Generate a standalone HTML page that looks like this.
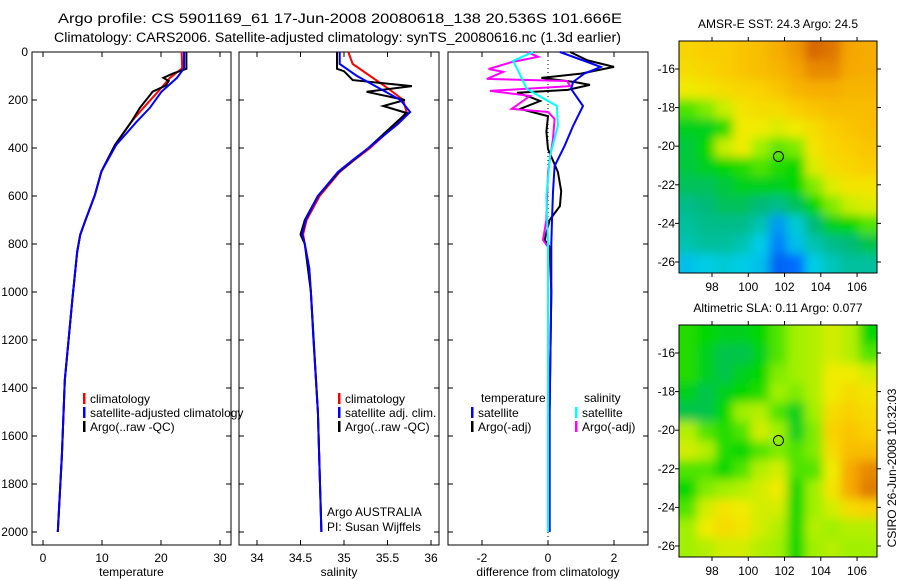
<!DOCTYPE html>
<html><head><meta charset="utf-8"><style>
html,body{margin:0;padding:0;background:#fff;}
svg{display:block;font-family:"Liberation Sans",sans-serif;}
</style></head><body>
<svg id="fig" width="900" height="580" viewBox="0 0 900 580">
<rect width="900" height="580" fill="#fff"/>
<text x="58" y="23" font-size="13.5" text-anchor="start" textLength="564" lengthAdjust="spacingAndGlyphs">Argo profile: CS 5901169_61 17-Jun-2008 20080618_138 20.536S 101.666E</text>
<text x="54" y="42" font-size="13.5" text-anchor="start" textLength="567" lengthAdjust="spacingAndGlyphs">Climatology: CARS2006. Satellite-adjusted climatology: synTS_20080616.nc (1.3d earlier)</text>
<g id="layer"></g>
</svg>
<script>
// ---- data ----
const depthTicks=[0,200,400,600,800,1000,1200,1400,1600,1800,2000];
const tempTicks=[0,10,20,30];
const salTicks=[34,34.5,35,35.5,36];
const salTickLabels=["34","34.5","35","35.5","36"];
const diffTicks=[-2,0,2];
const depT=[0,68,108,165,233,290,387,498,596,707,762,832,1025,1367,1680,2000];
const tempClim=[23.5,23.6,21.5,19.5,17,15,12.2,9.9,8.8,7.1,6.3,5.8,5.0,3.7,3.2,2.5];
const tempSat=[23.9,23.9,22.7,20.1,18.1,15.9,12.4,9.9,8.8,7.1,6.3,5.8,5.0,3.7,3.2,2.5];
const depTA=[0,70,90,108,121,140,165,190,233,290,387,498,596,707,762,832,1025,1367,1680,2000];
const tempArgo=[24.3,24.3,22,20.4,21.3,20.8,18.6,17.8,16.4,15,12.2,9.9,8.8,7.1,6.3,5.8,5.0,3.7,3.2,2.5];
const depS=[0,50,100,150,200,250,300,350,400,450,500,600,700,760,800,900,1000,1200,1500,2000];
const salClim=[35.05,35.1,35.3,35.5,35.68,35.72,35.6,35.45,35.3,35.12,34.95,34.72,34.57,34.53,34.55,34.6,34.62,34.65,34.7,34.74];
const salSat=[34.95,34.95,35.15,35.4,35.65,35.76,35.62,35.45,35.28,35.1,34.93,34.7,34.56,34.52,34.55,34.6,34.62,34.65,34.7,34.74];
const depSA=[0,70,80,117,142,166,200,225,254,300,400,500,600,700,760,800,1000,1500,2000];
const salArgo=[34.92,34.92,35.0,35.1,35.78,35.26,35.7,35.45,35.72,35.58,35.28,34.94,34.7,34.55,34.5,34.55,34.62,34.7,34.74];
const dTsatD=[0,62,90,125,154,225,308,392,475,583,700,800,1000,1500,2000];
const dTsat=[0.36,1.6,1.1,0.76,0.7,1.06,0.76,0.5,0.2,0.15,0.12,0.1,0.1,0.05,0.05];
const dTargoD=[0,35,62,90,108,125,137,158,170,190,204,237,267,333,404,500,580,642,700,783,812,1000,1500,2000];
const dTargo=[0.67,1.2,2.0,1.0,-0.2,0.8,1.27,0.6,-0.94,-0.5,-0.24,-0.85,0,-0.05,0,0.3,0.4,0.36,0.05,-0.1,0.05,0.1,0.05,0.05];
const dSsatD=[0,37,80,154,225,308,433,600,800,1000,2000];
const dSsat=[-0.45,-1.06,-0.9,-0.64,0.27,0.3,0.06,-0.05,0,0,0];
const dSargoD=[0,20,42,71,83,112,121,142,162,183,204,237,250,279,362,500,700,783,812,1000,2000];
const dSargo=[-0.64,-0.3,-1.1,-1.8,-1.36,-1.85,0.58,0.67,-1.76,-0.55,-0.76,-1.1,0,0.2,0.15,0,-0.05,-0.15,0,0,0];
const lonTicks=[98,100,102,104,106];
const latTicks=[-16,-18,-20,-22,-24,-26];
const sstGrid=[
[.74,.76,.76,.78,.8,.84,.88,.95,.93,.86,.84],
[.72,.74,.76,.78,.8,.82,.86,.9,.9,.85,.84],
[.68,.7,.72,.74,.75,.78,.82,.84,.84,.82,.82],
[.55,.58,.64,.7,.72,.72,.76,.78,.8,.8,.8],
[.48,.48,.52,.68,.68,.66,.68,.72,.76,.78,.8],
[.46,.5,.64,.68,.6,.56,.58,.7,.74,.76,.78],
[.46,.48,.5,.52,.55,.52,.5,.66,.72,.74,.76],
[.44,.44,.46,.48,.48,.48,.5,.58,.66,.7,.7],
[.4,.42,.44,.44,.42,.4,.44,.5,.58,.64,.66],
[.38,.4,.4,.4,.36,.22,.32,.42,.48,.5,.55],
[.36,.38,.38,.36,.3,.18,.28,.36,.4,.42,.45],
[.28,.3,.32,.3,.28,.12,.15,.3,.35,.38,.38]];
const slaGrid=[
[.52,.5,.48,.48,.5,.55,.6,.62,.65,.62,.5],
[.52,.48,.45,.45,.48,.55,.6,.62,.65,.62,.55],
[.52,.48,.45,.48,.5,.58,.6,.62,.68,.68,.65],
[.48,.45,.48,.5,.52,.6,.58,.62,.68,.72,.7],
[.45,.45,.5,.6,.62,.55,.48,.6,.72,.75,.72],
[.62,.55,.52,.55,.65,.6,.48,.58,.75,.78,.75],
[.65,.62,.52,.5,.55,.58,.55,.58,.72,.8,.8],
[.55,.55,.5,.55,.62,.65,.55,.55,.68,.85,.9],
[.5,.58,.6,.62,.65,.68,.5,.6,.7,.85,.92],
[.55,.65,.7,.68,.65,.65,.5,.6,.65,.72,.75],
[.6,.68,.72,.7,.65,.62,.5,.62,.6,.62,.62],
[.6,.62,.65,.65,.62,.6,.5,.6,.62,.6,.6]];
const argoLon=101.666, argoLat=-20.536;

// ---- drawing ----
const NS="http://www.w3.org/2000/svg";
const L=document.getElementById('layer');
function mk(tag,attrs,parent){const e=document.createElementNS(NS,tag);for(const k in attrs)e.setAttribute(k,attrs[k]);(parent||L).appendChild(e);return e;}
function txt(x,y,s,size,anchor,parent){const e=mk('text',{x:x,y:y,'font-size':size||12,'text-anchor':anchor||'middle'},parent);e.textContent=s;return e;}
const Y0=52,Y1=545;
const dy=d=>Y0+d*0.24;
function line(xs,ys,fx,color,name,w){
  const pts=xs.map((v,i)=>fx(v).toFixed(1)+','+dy(ys[i]).toFixed(1)).join(' ');
  const p=mk('polyline',{points:pts,fill:'none',stroke:color,'stroke-width':w||2});
  
  
}
function frame(x0,x1,fx,ticks,labels,xlabel,name,ylabels){
  const g=mk('g',{});
  
  
  mk('rect',{x:x0,y:Y0,width:x1-x0,height:Y1-Y0,fill:'none',stroke:'#000','stroke-width':1},g);
  ticks.forEach((t,i)=>{const x=fx(t);
    mk('line',{x1:x,x2:x,y1:Y1,y2:Y1-5,stroke:'#000'},g);
    mk('line',{x1:x,x2:x,y1:Y0,y2:Y0+5,stroke:'#000'},g);
    const tl=txt(x,562,labels[i],12,'middle',g);
    
    
  });
  depthTicks.forEach(d=>{const y=dy(d);
    mk('line',{x1:x0,x2:x0+5,y1:y,y2:y,stroke:'#000'},g);
    mk('line',{x1:x1,x2:x1-5,y1:y,y2:y,stroke:'#000'},g);
    if(ylabels){const tl=txt(28,y+4,String(d),12,'end',g);
      
      }
  });
  const xl=txt((x0+x1)/2,576,xlabel,12,'middle',g);
  
  
}
function legend(x,y,color,label,name){
  const g=mk('g',{});
  
  
  mk('rect',{x:x,y:y-10,width:2.5,height:11,fill:color},g);
  if(label)txt(x+7,y,label,12,'start',g);
}
// panel 1 temperature
const xt=t=>43+5.9*t;
frame(32,231,xt,tempTicks,tempTicks.map(String),'temperature','temperature-panel',true);
line(tempClim,depT,xt,'#f00','temp-climatology-line');
line(tempArgo,depTA,xt,'#000','temp-argo-line');
line(tempSat,depT,xt,'#00f','temp-satellite-line');
legend(83,403,'#f00','climatology','legend-climatology');
legend(83,417,'#00f','satellite-adjusted climatology','legend-satellite-adjusted');
legend(83,431,'#000','Argo(..raw -QC)','legend-argo-raw');
// panel 2 salinity
const xs=s=>257+87*(s-34);
frame(239,439,xs,salTicks,salTickLabels,'salinity','salinity-panel',false);
line(salClim,depS,xs,'#f00','sal-climatology-line');
line(salArgo,depSA,xs,'#000','sal-argo-line');
line(salSat,depS,xs,'#00f','sal-satellite-line');
legend(338,403,'#f00','climatology','legend-sal-climatology');
legend(338,417,'#00f','satellite adj. clim.','legend-sal-satellite');
legend(338,431,'#000','Argo(..raw -QC)','legend-sal-argo');
const a1=txt(327,516,'Argo AUSTRALIA',12,'start');
const a2=txt(327,531,'PI: Susan Wijffels',12,'start');
// panel 3 differences
const xd=v=>548+33*v;
frame(448,648,xd,diffTicks,diffTicks.map(String),'difference from climatology','difference-panel',false);
mk('line',{x1:xd(0),x2:xd(0),y1:Y0,y2:Y1,stroke:'#000','stroke-dasharray':'1,3'});
line(dTargo,dTargoD,xd,'#000','temp-diff-argo-line');
line(dSargo,dSargoD,xd,'#f0f','sal-diff-argo-line');
line(dTsat,dTsatD,xd,'#00f','temp-diff-satellite-line');
line(dSsat,dSsatD,xd,'#0ff','sal-diff-satellite-line');
const lt=txt(481,402,'temperature',12,'start');
const ls=txt(584,402,'salinity',12,'start');
legend(471,417,'#00f','satellite','legend-diff-temp-satellite');
legend(471,431,'#000','Argo(-adj)','legend-diff-temp-argo');
legend(575,417,'#0ff','satellite','legend-diff-sal-satellite');
legend(575,431,'#f0f','Argo(-adj)','legend-diff-sal-argo');

// maps
const stops=[[0,[0,60,200]],[0.15,[0,110,255]],[0.3,[0,205,230]],[0.42,[0,185,120]],[0.5,[0,215,0]],[0.6,[160,240,0]],[0.68,[240,235,0]],[0.76,[250,205,0]],[0.86,[245,165,0]],[0.95,[215,105,0]],[1,[200,80,0]]];
function cmap(v){for(let i=1;i<stops.length;i++){if(v<=stops[i][0]){const[a,ca]=stops[i-1],[b,cb]=stops[i];const f=(v-a)/(b-a);return 'rgb('+ca.map((c,k)=>Math.round(c+(cb[k]-c)*f)).join(',')+')';}}return 'rgb(200,80,0)';}
const defs=mk('defs',{});
const flt=mk('filter',{id:'blur',x:'-10%',y:'-10%',width:'120%',height:'120%'},defs);
mk('feGaussianBlur',{stdDeviation:5},flt);
function map(top,title,grid,name,cid){
  const x0=679,x1=877,y1=top+232,lon0=96.18,lon1=107.1,lat0=-14.55;
  const fx=lo=>x0+(lo-lon0)*(x1-x0)/(lon1-lon0);
  const fy=la=>top+(lat0-la)*19.3;
  const g=mk('g',{});
  
  
  const cp=mk('clipPath',{id:cid},defs);
  mk('rect',{x:x0,y:top,width:x1-x0,height:y1-top},cp);
  const cg=mk('g',{'clip-path':'url(#'+cid+')'},g);
  const ig=mk('g',{filter:'url(#blur)'},cg);
  const nr=grid.length,nc=grid[0].length,cw=(x1-x0)/nc,ch=(y1-top)/nr;
  grid.forEach((row,r)=>row.forEach((v,c)=>{
    mk('rect',{x:x0+c*cw-(c==0?12:0),y:top+r*ch-(r==0?12:0),width:cw+1+(c==0||c==nc-1?12:0),height:ch+1+(r==0||r==nr-1?12:0),fill:cmap(v)},ig);
  }));
  mk('rect',{x:x0,y:top,width:x1-x0,height:y1-top,fill:'none',stroke:'#000'},g);
  lonTicks.forEach(lo=>{const x=fx(lo);
    mk('line',{x1:x,x2:x,y1:y1,y2:y1+4,stroke:'#000'},g);
    mk('line',{x1:x,x2:x,y1:top,y2:top-4,stroke:'#000'},g);
    txt(x,y1+18,String(lo),12,'middle',g);});
  latTicks.forEach(la=>{const y=fy(la);
    mk('line',{x1:x0,x2:x0-4,y1:y,y2:y,stroke:'#000'},g);
    mk('line',{x1:x1,x2:x1+4,y1:y,y2:y,stroke:'#000'},g);
    txt(675,y+4,String(la),12,'end',g);});
  const c=mk('circle',{cx:fx(argoLon),cy:fy(argoLat),r:5,fill:'none',stroke:'#000','stroke-width':1},g);
  
  
  const t=txt(778,top-13,title,12,'middle',g);
  
  
}
map(41,'AMSR-E SST: 24.3 Argo: 24.5',sstGrid,'sst-map','clipA');
map(325,'Altimetric SLA: 0.11 Argo: 0.077',slaGrid,'sla-map','clipB');
const st=txt(0,0,'CSIRO 26-Jun-2008 10:32:03',12,'middle');
st.setAttribute('transform','translate(896,468) rotate(-90)');


</script>
</body></html>
